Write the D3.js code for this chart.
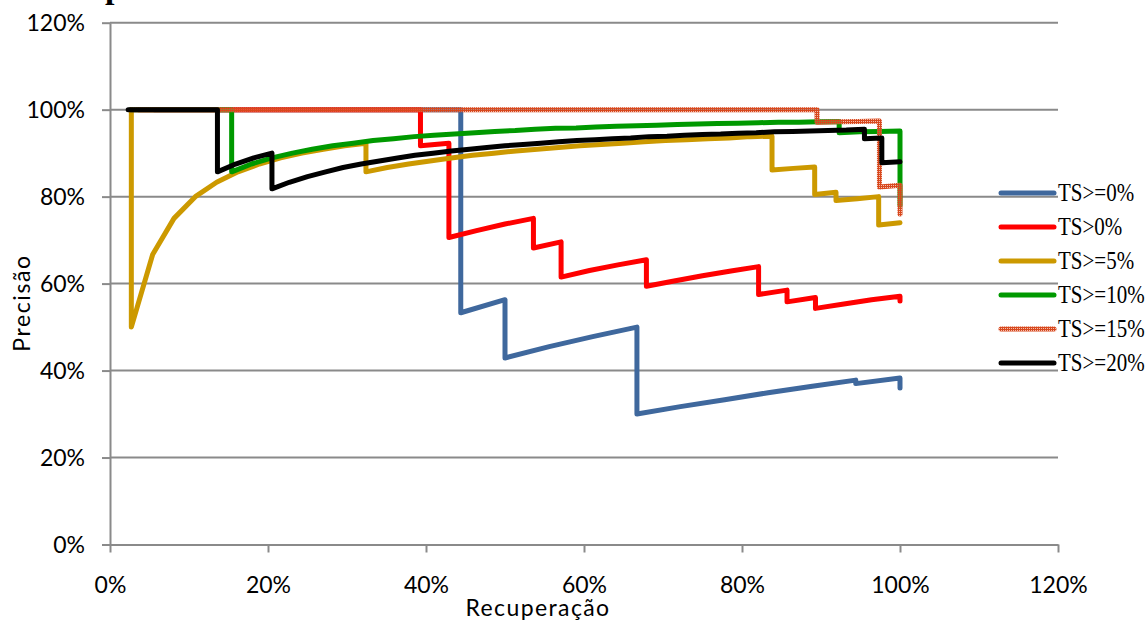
<!DOCTYPE html>
<html>
<head>
<meta charset="utf-8">
<script src="https://cdn.jsdelivr.net/npm/d3@7"></script>
<style>
  html, body { margin: 0; padding: 0; background: #fff; }
  svg { display: block; }
</style>
</head>
<body>
<svg id="chart" width="1148" height="621"></svg>
<script>
// ---- Data (percent values) ----
const seriesNames = ["TS>=0%", "TS>0%", "TS>=5%", "TS>=10%", "TS>=15%", "TS>=20%"];
const seriesColors = ["#3f689d", "#ff0000", "#cc9900", "#009900", "url(#hatch)", "#000000"];
const tickValues = [0, 20, 40, 60, 80, 100, 120];

const ts0Recall    = [5.6, 44.4, 44.4, 50.0, 50.0, 55.6, 61.1, 66.7, 66.7, 72.2, 77.8, 83.3, 88.9, 94.4, 94.4, 100, 100];
const ts0Precision = [100, 100, 53.3, 56.3, 42.9, 45.5, 47.8, 50.0, 30.0, 31.7, 33.3, 34.9, 36.4, 37.8, 37.0, 38.3, 36.0];

const tsGt0Recall    = [3.6, 39.3, 39.3, 42.9, 42.9, 46.4, 50.0, 53.6, 53.6, 57.1, 57.1, 60.7, 64.3, 67.9, 67.9, 71.4, 75.0, 78.6, 82.1, 82.1, 85.7, 85.7, 89.3, 89.3, 92.9, 96.4, 100, 100];
const tsGt0Precision = [100, 100, 91.7, 92.3, 70.6, 72.2, 73.7, 75.0, 68.2, 69.6, 61.5, 63.0, 64.3, 65.5, 59.4, 60.6, 61.8, 62.9, 63.9, 57.5, 58.5, 55.8, 56.8, 54.3, 55.3, 56.3, 57.1, 56.0];

const ts5Recall    = [2.7, 2.7, 5.4, 8.1, 10.8, 13.5, 16.2, 18.9, 21.6, 24.3, 27.0, 29.7, 32.4, 32.4, 35.1, 37.8, 40.5, 43.2, 45.9, 48.6, 51.4, 54.1, 56.8, 59.5, 62.2, 64.9, 67.6, 70.3, 73.0, 75.7, 78.4, 81.1, 83.8, 83.8, 86.5, 89.2, 89.2, 91.9, 91.9, 94.6, 97.3, 97.3, 100];
const ts5Precision = [100, 50.0, 66.7, 75.0, 80.0, 83.3, 85.7, 87.5, 88.9, 90.0, 90.9, 91.7, 92.3, 85.7, 86.7, 87.5, 88.2, 88.9, 89.5, 90.0, 90.5, 90.9, 91.3, 91.7, 92.0, 92.3, 92.6, 92.9, 93.1, 93.3, 93.5, 93.8, 93.9, 86.1, 86.5, 86.8, 80.5, 81.0, 79.1, 79.5, 80.0, 73.5, 74.0];

const ts10Recall    = [2.6, 15.4, 15.4, 17.9, 20.5, 23.1, 25.6, 28.2, 30.8, 33.3, 35.9, 38.5, 41.0, 43.6, 46.2, 48.7, 51.3, 53.8, 56.4, 59.0, 61.5, 64.1, 66.7, 69.2, 71.8, 74.4, 76.9, 79.5, 82.1, 84.6, 87.2, 89.7, 92.3, 92.3, 94.9, 97.4, 100, 100];
const ts10Precision = [100, 100, 85.7, 87.5, 88.9, 90.0, 90.9, 91.7, 92.3, 92.9, 93.3, 93.8, 94.1, 94.4, 94.7, 95.0, 95.2, 95.5, 95.7, 95.8, 96.0, 96.2, 96.3, 96.4, 96.6, 96.7, 96.8, 96.9, 97.0, 97.1, 97.1, 97.2, 97.3, 94.7, 94.9, 95.0, 95.1, 78.0];

const ts15Recall    = [2.6, 89.5, 89.5, 92.1, 94.7, 97.4, 97.4, 100, 100];
const ts15Precision = [100, 100, 97.1, 97.2, 97.3, 97.4, 82.2, 82.6, 76.0];

const ts20Recall    = [2.3, 13.6, 13.6, 15.9, 18.2, 20.5, 20.5, 22.7, 25.0, 27.3, 29.5, 31.8, 34.1, 36.4, 38.6, 40.9, 43.2, 45.5, 47.7, 50.0, 52.3, 54.5, 56.8, 59.1, 61.4, 63.6, 65.9, 68.2, 70.5, 72.7, 75.0, 77.3, 79.5, 81.8, 84.1, 86.4, 88.6, 90.9, 93.2, 95.5, 95.5, 97.7, 97.7, 100];
const ts20Precision = [100, 100, 85.7, 87.5, 88.9, 90.0, 81.8, 83.3, 84.6, 85.7, 86.7, 87.5, 88.2, 88.9, 89.5, 90.0, 90.5, 90.9, 91.3, 91.7, 92.0, 92.3, 92.6, 92.9, 93.1, 93.3, 93.5, 93.8, 93.9, 94.1, 94.3, 94.4, 94.6, 94.7, 94.9, 95.0, 95.1, 95.2, 95.3, 95.5, 93.3, 93.5, 87.8, 88.0];

const recallArrays = [ts0Recall, tsGt0Recall, ts5Recall, ts10Recall, ts15Recall, ts20Recall];
const precisionArrays = [ts0Precision, tsGt0Precision, ts5Precision, ts10Precision, ts15Precision, ts20Precision];

// ---- Drawing ----
const svg = d3.select("#chart");
const x = d3.scaleLinear().domain([0, 120]).range([110, 1058]);
const y = d3.scaleLinear().domain([0, 120]).range([544.5, 22.7]);
const gridColor = "#8a8a8a";
const axisFont = "Lato, 'Open Sans', sans-serif";

// hatch pattern for TS>=15%
const defs = svg.append("defs");
const pat = defs.append("pattern").attr("id", "hatch")
  .attr("patternUnits", "userSpaceOnUse").attr("width", 2).attr("height", 2);
pat.append("rect").attr("x", 0).attr("y", 0).attr("width", 2).attr("height", 1).attr("fill", "#d8481d");
pat.append("rect").attr("x", 0).attr("y", 1).attr("width", 1).attr("height", 1).attr("fill", "#d8481d");
pat.append("rect").attr("x", 1).attr("y", 1).attr("width", 1).attr("height", 1).attr("fill", "#e8876a").attr("opacity", 0.55);

// truncated title (only its bottom is visible in the reference)
svg.append("text").attr("x", 105).attr("y", -2.5)
  .attr("font-family", "'Liberation Serif', serif").attr("font-weight", "bold")
  .attr("font-size", 34).attr("fill", "#000").text("p");

// horizontal gridlines
svg.append("g").selectAll("line").data(tickValues.filter(d => d > 0)).join("line")
  .attr("x1", x(0)).attr("x2", x(120))
  .attr("y1", d => y(d)).attr("y2", d => y(d))
  .attr("stroke", gridColor).attr("stroke-width", 2);

// y axis
const yAxis = svg.append("g").attr("transform", `translate(${x(0)},0)`)
  .call(d3.axisLeft(y).tickValues(tickValues).tickFormat(d => d + "%").tickSize(8).tickSizeOuter(0).tickPadding(17));
yAxis.select(".domain").attr("stroke", gridColor).attr("stroke-width", 2);
yAxis.selectAll(".tick line").attr("stroke", gridColor).attr("stroke-width", 2);
yAxis.selectAll(".tick text").attr("font-family", axisFont).attr("font-size", 23).attr("fill", "#000").attr("dy", "0.36em");

// x axis
const xAxis = svg.append("g").attr("transform", `translate(0,${y(0)})`)
  .call(d3.axisBottom(x).tickValues(tickValues).tickFormat(d => d + "%").tickSize(8).tickSizeOuter(0));
xAxis.select(".domain").attr("stroke", gridColor).attr("stroke-width", 2);
xAxis.selectAll(".tick line").attr("stroke", gridColor).attr("stroke-width", 2);
xAxis.selectAll(".tick text").attr("font-family", axisFont).attr("font-size", 23).attr("fill", "#000")
  .attr("y", 592.5 - y(0)).attr("dy", 0);

// axis titles
svg.append("text").attr("x", 538).attr("y", 615.5).attr("text-anchor", "middle")
  .attr("font-family", axisFont).attr("font-size", 23).attr("letter-spacing", 1.4).attr("fill", "#000")
  .text("Recuperação");
svg.append("text").attr("transform", "translate(30,303) rotate(-90)").attr("text-anchor", "middle")
  .attr("font-family", axisFont).attr("font-size", 23).attr("letter-spacing", 1.6).attr("fill", "#000")
  .text("Precisão");

// series lines
const line = d3.line().x(d => x(d[0])).y(d => y(d[1]));
const series = seriesNames.map((name, i) => ({
  name, color: seriesColors[i],
  points: recallArrays[i].map((r, j) => [r, precisionArrays[i][j]])
}));
svg.append("g").selectAll("path").data(series).join("path")
  .attr("d", d => line(d.points))
  .attr("fill", "none").attr("stroke", d => d.color).attr("stroke-width", 5)
  .attr("stroke-linejoin", "round").attr("stroke-linecap", "round");

// legend
const legY = d3.scaleLinear().domain([0, 5]).range([193, 363]);
const leg = svg.append("g").selectAll("g").data(series).join("g")
  .attr("transform", (d, i) => `translate(0,${legY(i)})`);
leg.append("line").attr("x1", 1001).attr("x2", 1054).attr("y1", 0).attr("y2", 0)
  .attr("stroke", d => d.color).attr("stroke-width", 5).attr("stroke-linecap", "round");
leg.append("text").attr("transform", "translate(1058,8) scale(0.84,1)")
  .attr("font-family", "'Liberation Serif', 'Times New Roman', serif").attr("font-size", 25).attr("fill", "#000")
  .text(d => d.name);
</script>
</body>
</html>
